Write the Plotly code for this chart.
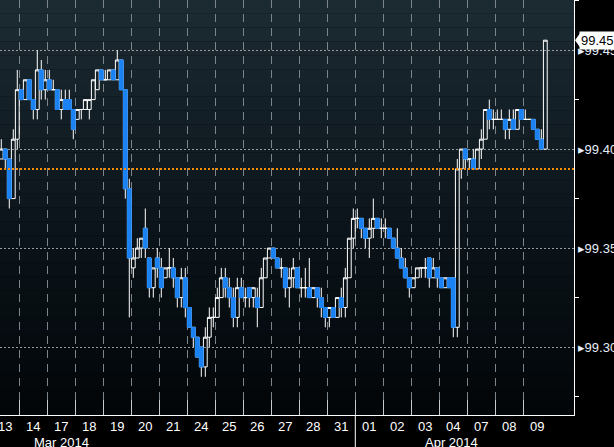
import plotly.graph_objects as go

# ---------------- data ----------------
DAY_LABELS = ["13", "14", "17", "18", "19", "20", "21", "24", "25", "26", "27", "28", "31",
              "01", "02", "03", "04", "07", "08", "09"]
MONTH_LABELS = ["Mar 2014", "Apr 2014"]
CANDLES_PER_DAY = [7] * 19 + [6]

OPEN = [
    99.400, 99.400, 99.395, 99.400, 99.395, 99.375, 99.405,   # 13
    99.430, 99.425, 99.435, 99.425, 99.420, 99.440, 99.430,   # 14
    99.435, 99.430, 99.430, 99.420, 99.425, 99.425, 99.420,   # 17
    99.415, 99.420, 99.420, 99.420, 99.425, 99.430, 99.440,   # 18
    99.435, 99.435, 99.440, 99.435, 99.445, 99.430, 99.380,   # 19
    99.340, 99.345, 99.350, 99.360, 99.345, 99.330, 99.345,   # 20
    99.340, 99.335, 99.340, 99.340, 99.335, 99.325, 99.335,   # 21
    99.320, 99.310, 99.305, 99.300, 99.290, 99.305, 99.315,   # 24
    99.315, 99.325, 99.335, 99.330, 99.325, 99.315, 99.330,   # 25
    99.325, 99.330, 99.325, 99.325, 99.320, 99.335, 99.345,   # 26
    99.350, 99.345, 99.340, 99.340, 99.330, 99.335, 99.340,   # 27
    99.330, 99.330, 99.330, 99.325, 99.330, 99.325, 99.320,   # 28
    99.315, 99.320, 99.315, 99.325, 99.320, 99.335, 99.355,   # 31
    99.365, 99.365, 99.360, 99.355, 99.360, 99.365, 99.360,   # 01
    99.360, 99.360, 99.355, 99.350, 99.345, 99.340, 99.335,   # 02
    99.330, 99.335, 99.340, 99.340, 99.345, 99.335, 99.340,   # 03
    99.335, 99.330, 99.335, 99.335, 99.310, 99.390, 99.400,   # 04
    99.395, 99.395, 99.390, 99.400, 99.405, 99.420, 99.415,   # 07
    99.415, 99.415, 99.415, 99.410, 99.415, 99.410, 99.420,   # 08
    99.415, 99.415, 99.415, 99.410, 99.405, 99.400,           # 09
]
HIGH = [
    99.405, 99.405, 99.405, 99.400, 99.395, 99.410, 99.440,
    99.430, 99.435, 99.435, 99.425, 99.450, 99.445, 99.440,
    99.440, 99.435, 99.430, 99.430, 99.430, 99.430, 99.420,
    99.420, 99.420, 99.425, 99.425, 99.435, 99.440, 99.440,
    99.440, 99.440, 99.440, 99.450, 99.445, 99.430, 99.385,
    99.350, 99.355, 99.355, 99.370, 99.345, 99.340, 99.350,
    99.345, 99.340, 99.350, 99.345, 99.335, 99.340, 99.340,
    99.320, 99.310, 99.305, 99.300, 99.310, 99.320, 99.320,
    99.330, 99.340, 99.340, 99.335, 99.330, 99.335, 99.335,
    99.330, 99.330, 99.330, 99.330, 99.340, 99.345, 99.350,
    99.350, 99.345, 99.345, 99.340, 99.340, 99.345, 99.340,
    99.335, 99.340, 99.345, 99.330, 99.330, 99.330, 99.320,
    99.320, 99.320, 99.325, 99.330, 99.340, 99.355, 99.370,
    99.370, 99.365, 99.360, 99.365, 99.375, 99.365, 99.365,
    99.365, 99.360, 99.355, 99.360, 99.350, 99.345, 99.335,
    99.335, 99.340, 99.340, 99.345, 99.345, 99.345, 99.340,
    99.335, 99.335, 99.335, 99.335, 99.395, 99.400, 99.400,
    99.395, 99.400, 99.400, 99.410, 99.420, 99.425, 99.420,
    99.420, 99.420, 99.415, 99.420, 99.420, 99.420, 99.420,
    99.420, 99.415, 99.415, 99.410, 99.410, 99.455,
]
LOW = [
    99.395, 99.395, 99.395, 99.390, 99.370, 99.375, 99.400,
    99.425, 99.425, 99.425, 99.415, 99.415, 99.425, 99.425,
    99.430, 99.430, 99.420, 99.415, 99.420, 99.420, 99.405,
    99.415, 99.415, 99.420, 99.415, 99.425, 99.430, 99.435,
    99.435, 99.435, 99.435, 99.435, 99.430, 99.375, 99.315,
    99.335, 99.345, 99.345, 99.345, 99.325, 99.325, 99.335,
    99.325, 99.335, 99.335, 99.330, 99.320, 99.320, 99.315,
    99.310, 99.300, 99.295, 99.285, 99.285, 99.300, 99.310,
    99.315, 99.325, 99.325, 99.320, 99.310, 99.310, 99.325,
    99.320, 99.320, 99.320, 99.310, 99.320, 99.335, 99.345,
    99.345, 99.340, 99.335, 99.325, 99.320, 99.330, 99.330,
    99.325, 99.325, 99.325, 99.325, 99.320, 99.315, 99.310,
    99.310, 99.315, 99.315, 99.315, 99.315, 99.335, 99.350,
    99.360, 99.355, 99.350, 99.345, 99.355, 99.360, 99.355,
    99.355, 99.355, 99.350, 99.345, 99.340, 99.335, 99.325,
    99.330, 99.335, 99.335, 99.335, 99.330, 99.335, 99.330,
    99.330, 99.330, 99.330, 99.305, 99.305, 99.385, 99.390,
    99.390, 99.390, 99.390, 99.395, 99.405, 99.410, 99.410,
    99.415, 99.415, 99.405, 99.405, 99.410, 99.410, 99.415,
    99.415, 99.415, 99.410, 99.405, 99.400, 99.400,
]
CLOSE = [
    99.400, 99.400, 99.400, 99.395, 99.375, 99.405, 99.430,
    99.425, 99.435, 99.425, 99.420, 99.440, 99.430, 99.435,
    99.430, 99.430, 99.420, 99.425, 99.420, 99.420, 99.410,
    99.420, 99.420, 99.425, 99.425, 99.435, 99.440, 99.435,
    99.435, 99.440, 99.435, 99.445, 99.430, 99.380, 99.345,
    99.345, 99.350, 99.355, 99.350, 99.330, 99.340, 99.340,
    99.330, 99.340, 99.340, 99.335, 99.325, 99.335, 99.320,
    99.310, 99.305, 99.295, 99.290, 99.305, 99.315, 99.315,
    99.325, 99.335, 99.330, 99.325, 99.315, 99.330, 99.325,
    99.325, 99.325, 99.330, 99.320, 99.335, 99.345, 99.350,
    99.345, 99.340, 99.340, 99.330, 99.335, 99.340, 99.330,
    99.330, 99.330, 99.325, 99.330, 99.325, 99.320, 99.315,
    99.320, 99.315, 99.325, 99.320, 99.335, 99.355, 99.365,
    99.365, 99.360, 99.355, 99.360, 99.365, 99.360, 99.360,
    99.360, 99.355, 99.350, 99.345, 99.340, 99.335, 99.330,
    99.335, 99.340, 99.340, 99.340, 99.335, 99.340, 99.335,
    99.330, 99.335, 99.330, 99.310, 99.390, 99.400, 99.395,
    99.395, 99.390, 99.400, 99.405, 99.420, 99.415, 99.415,
    99.415, 99.415, 99.410, 99.415, 99.410, 99.420, 99.415,
    99.415, 99.415, 99.410, 99.405, 99.400, 99.455,
]
REFERENCE_LEVEL = 99.39
Y_TICKS = [99.30, 99.35, 99.40, 99.45]

# ---------------- styling ----------------
BLUE = "#1a82f2"
WHITE = "#ffffff"
FONT = "Liberation Sans, Arial, sans-serif"
SLOTS = 7

# x position of each candle: day index + slot fraction
xs = []
for d, n in enumerate(CANDLES_PER_DAY):
    for k in range(n):
        xs.append(d + (k + 0.5) / SLOTS)

# bodies of falling candles (solid blue, no white outline)
dx, do, dc = [], [], []
for x, o, c in zip(xs, OPEN, CLOSE):
    if c < o:
        dx.append(x); do.append(o); dc.append(c)

fig = go.Figure()
fig.add_trace(go.Candlestick(
    x=xs, open=OPEN, high=HIGH, low=LOW, close=CLOSE,
    increasing=dict(line=dict(color=WHITE, width=1), fillcolor="rgba(0,0,0,0)"),
    decreasing=dict(line=dict(color=WHITE, width=1), fillcolor=BLUE),
    whiskerwidth=0, hoverinfo="skip", showlegend=False))
fig.add_trace(go.Candlestick(
    x=dx, open=do, high=do, low=dc, close=dc,
    increasing=dict(line=dict(color=BLUE, width=1), fillcolor=BLUE),
    decreasing=dict(line=dict(color=BLUE, width=1), fillcolor=BLUE),
    whiskerwidth=0, hoverinfo="skip", showlegend=False))

# background gradient bands
shapes = []
N = 30
top = (29, 43, 51)
mid = (12, 22, 28)
bot = (2, 5, 8)
for j in range(N):
    t = (j + 0.5) / N  # 0 bottom -> 1 top
    if t > 0.5:
        u = (t - 0.5) / 0.5
        col = [mid[i] + (top[i] - mid[i]) * u for i in range(3)]
    else:
        u = t / 0.5
        col = [bot[i] + (mid[i] - bot[i]) * u for i in range(3)]
    shapes.append(dict(type="rect", xref="paper", yref="paper", x0=0, x1=1,
                       y0=j / N, y1=(j + 1) / N, layer="below", line=dict(width=0),
                       fillcolor="rgb(%d,%d,%d)" % tuple(int(round(v)) for v in col)))

# reference level
shapes.append(dict(type="line", xref="paper", yref="y", x0=0, x1=1,
                   y0=REFERENCE_LEVEL, y1=REFERENCE_LEVEL,
                   line=dict(color="#ff8c00", width=2, dash="2px,2px")))
# month separator
shapes.append(dict(type="line", xref="x", yref="paper", x0=13, x1=13, y0=0, y1=-0.08,
                   line=dict(color=WHITE, width=1)))
# last price tag pointer
last = CLOSE[-1]
shapes.append(dict(type="path", xref="paper", yref="y", xsizemode="pixel", ysizemode="pixel",
                   xanchor=1, yanchor=last, path="M 1,0 L 6,7 L 6,-7 Z",
                   fillcolor=WHITE, line=dict(width=0)))

annotations = []
for i, lab in enumerate(DAY_LABELS):
    annotations.append(dict(x=i + 0.5, y=0, xref="x", yref="paper", yanchor="top",
                            yshift=-2, text=lab, showarrow=False,
                            font=dict(family=FONT, size=13, color=WHITE)))
for lab, pos in zip(MONTH_LABELS, [2.49, 16.45]):
    annotations.append(dict(x=pos, y=0, xref="x", yref="paper", yanchor="top",
                            yshift=-18, text=lab, showarrow=False,
                            font=dict(family=FONT, size=13, color=WHITE)))
annotations.append(dict(x=1, y=last, xref="paper", yref="y", xanchor="left",
                        yanchor="middle", xshift=5, text="%.2f" % (int(last * 100) / 100),
                        showarrow=False, bgcolor=WHITE, borderpad=1,
                        font=dict(family=FONT, size=13, color="black")))

fig.update_layout(
    width=614, height=447,
    margin=dict(l=0, r=40, t=0, b=32),
    paper_bgcolor="black", plot_bgcolor="rgb(2,5,8)",
    boxgap=0.05, boxgroupgap=0,
    shapes=shapes, annotations=annotations,
    showlegend=False, hovermode=False,
    xaxis=dict(range=[0.311, 20.81], tickmode="array", tickvals=list(range(1, 20)),
               showticklabels=False, ticks="inside", ticklen=15, tickcolor="#c8c8c8",
               showgrid=True, gridcolor="#7d858c", gridwidth=1, griddash="8px,6px",
               showline=True, linecolor=WHITE, linewidth=1, zeroline=False,
               rangeslider=dict(visible=False), fixedrange=True),
    yaxis=dict(range=[99.2657, 99.4753], side="right", tickmode="array",
               tickvals=Y_TICKS, ticktext=["\u25b8" + "%.2f" % v for v in Y_TICKS],
               ticks="", tickfont=dict(family=FONT, size=13, color="#e6eefc"),
               showgrid=True, gridcolor="#9a9a9a", gridwidth=1, griddash="2px,2px",
               minor=dict(tickvals=[99.275, 99.325, 99.375, 99.425, 99.475], ticks="outside",
                          ticklen=4, tickcolor=WHITE, showgrid=False),
               showline=True, linecolor=WHITE, linewidth=1, zeroline=False,
               automargin=False, fixedrange=True),
)

fig.write_html("out.html")
